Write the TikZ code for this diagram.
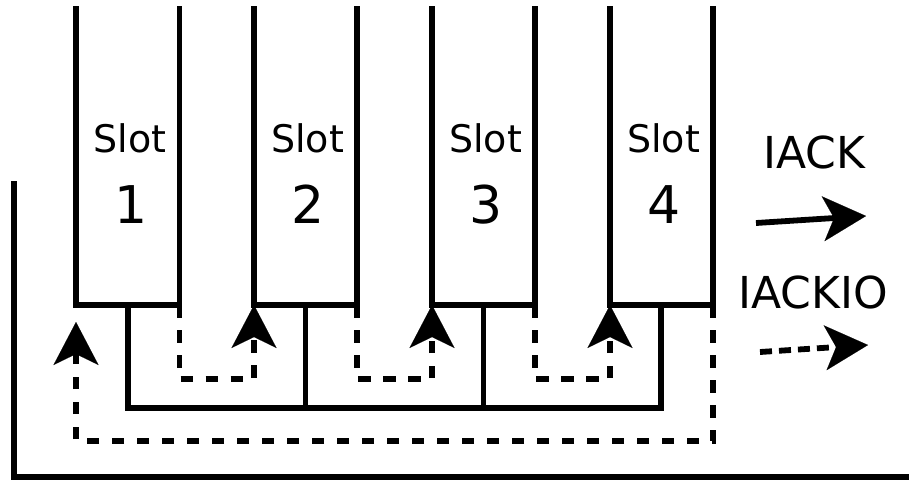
\documentclass[tikz,border=0pt]{standalone}
\usepackage{fontspec}
\setmainfont{DejaVu Sans}
\usetikzlibrary{arrows.meta}
\begin{document}
\begin{tikzpicture}[x=1pt,y=-1pt,
  wire/.style={line width=5.8pt, line cap=butt, line join=miter},
  chain/.style={wire, dash pattern=on 12.5pt off 12.5pt},
  tip/.style={-{Stealth[length=43pt,width=45pt,inset=11pt,line width=0.1pt]}},
  slotlabel/.style={inner sep=0pt, font=\fontsize{38}{40}\selectfont},
  slotnum/.style={inner sep=0pt, font=\fontsize{52}{54}\selectfont},
  legend/.style={inner sep=0pt, font=\fontsize{44}{46}\selectfont}]
\useasboundingbox (0,0) rectangle (909,480);

% four card slots, open at the top
\foreach \i/\l/\r in {1/76/179.5, 2/254/357, 3/432/535, 4/610/713}{
  \coordinate (tl\i) at (\l,6);
  \coordinate (tr\i) at (\r,6);
  \coordinate (bl\i) at (\l,305);
  \coordinate (br\i) at (\r,305);
  \draw[wire] (tl\i) -- (bl\i) -- (br\i) -- (tr\i);
  \node[slotlabel, anchor=base] (lab\i) at ({(\l+\r)/2+2},152) {Slot};
  \node[slotnum, anchor=base] (num\i) at ({(\l+\r)/2+3},223) {\i};
}

% IACK bus joining all slots
\coordinate (b1) at (128,408);
\coordinate (b4) at (661,408);
\draw[wire] (128,305) -- (b1) -- (b4) -- (661,305);
\draw[wire] (305.5,305) -- (305.5,408);
\draw[wire] (483.5,305) -- (483.5,408);

% IACKIO daisy chain between neighbouring slots
\draw[chain, tip] (br1) -- (179.5,379) -- (254,379) -- (bl2);
\draw[chain, tip] (br2) -- (357,379) -- (432,379) -- (bl3);
\draw[chain, tip] (br3) -- (535,379) -- (610,379) -- (bl4);

% return path from slot 4 back to slot 1
\coordinate (r1) at (76,322);
\draw[chain, tip] (br4) -- (713,441) -- (76,441) -- (r1);

% backplane edge
\coordinate (e0) at (14,181);
\coordinate (e1) at (909,477);
\draw[wire] (e0) -- (14,477) -- (e1);

% legend
\node[legend, anchor=base] (iack) at (814,168) {IACK};
\coordinate (a0) at (756,223);
\coordinate (a1) at (866,216);
\draw[wire, tip] (a0) -- (a1);
\node[legend, anchor=base] (iackio) at (813,308) {IACKIO};
\coordinate (d0) at (760,352);
\coordinate (d1) at (868,345);
\draw[wire, dash pattern=on 12pt off 7pt, tip] (d0) -- (d1);
\end{tikzpicture}
\end{document}
